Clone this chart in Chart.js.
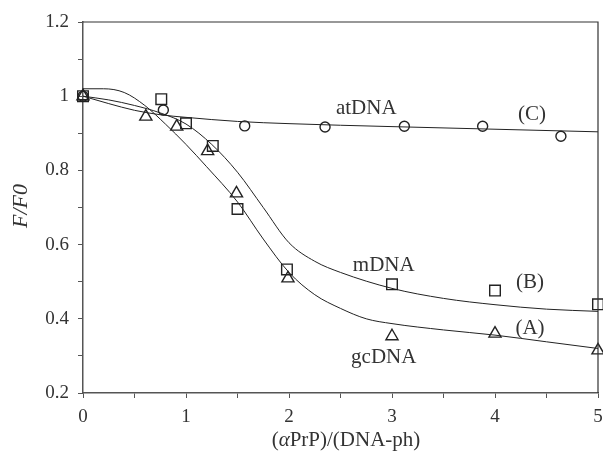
<!DOCTYPE html>
<html>
<head>
<meta charset="utf-8">
<script src="https://cdn.jsdelivr.net/npm/chart.js@4.4.0/dist/chart.umd.min.js"></script>
<style>
  body { margin: 0; background: #fff; }
  #wrap { width: 603px; height: 458px; }
</style>
</head>
<body>
<div id="wrap"><canvas id="fluoChart"></canvas></div>
<script>
// measured points
var gcX = [0, 0.61, 0.91, 1.21, 1.49, 1.99, 3.0, 4.0, 5.0];
var gcY = [1.0, 0.945, 0.918, 0.852, 0.738, 0.509, 0.353, 0.360, 0.315];
var mX = [0, 0.76, 1.0, 1.26, 1.50, 1.98, 3.0, 4.0, 5.0];
var mY = [1.0, 0.992, 0.927, 0.866, 0.696, 0.533, 0.493, 0.476, 0.439];
var atX = [0, 0.78, 1.57, 2.35, 3.12, 3.88, 4.64];
var atY = [1.0, 0.963, 0.92, 0.917, 0.919, 0.919, 0.892];

// fitted curves
var fitAX = [0, 0.2, 0.4, 0.6, 0.8, 1.0, 1.2, 1.5, 1.75, 2.0, 2.25, 2.5, 2.75, 3.0, 3.5, 4.0, 4.5, 5.0];
var fitAY = [1.02, 1.02, 1.01, 0.975, 0.925, 0.87, 0.81, 0.715, 0.615, 0.525, 0.465, 0.428, 0.4, 0.387, 0.37, 0.356, 0.338, 0.32];
var fitBX = [0, 0.25, 0.5, 0.75, 1.0, 1.25, 1.5, 1.75, 2.0, 2.25, 2.5, 3.0, 3.5, 4.0, 4.5, 5.0];
var fitBY = [1.0, 0.99, 0.975, 0.955, 0.925, 0.87, 0.795, 0.70, 0.605, 0.555, 0.525, 0.482, 0.455, 0.438, 0.426, 0.42];
var fitCX = [0, 0.25, 0.5, 0.75, 1.0, 1.5, 2.0, 3.0, 4.0, 5.0];
var fitCY = [1.0, 0.98, 0.962, 0.95, 0.943, 0.932, 0.926, 0.918, 0.911, 0.904];

// curve labels: [text, x, y]
var notes = [
  ["atDNA", 2.75, 0.968],
  ["(C)", 4.36, 0.952],
  ["mDNA", 2.92, 0.544],
  ["(B)", 4.34, 0.497],
  ["(A)", 4.34, 0.375],
  ["gcDNA", 2.92, 0.297]
];

var ink = '#222';
var serif = "'Liberation Serif', 'DejaVu Serif', serif";

function pts(xs, ys) {
  return xs.map(function (x, i) { return { x: x, y: ys[i] }; });
}

function curve(xs, ys) {
  return {
    type: 'line',
    data: pts(xs, ys),
    borderColor: ink,
    borderWidth: 1,
    pointRadius: 0,
    cubicInterpolationMode: 'monotone',
    fill: false
  };
}

function marks(xs, ys, style, r) {
  return {
    type: 'scatter',
    data: pts(xs, ys),
    pointStyle: style,
    pointRadius: r,
    pointHoverRadius: r,
    pointBorderColor: ink,
    pointBackgroundColor: 'rgba(0,0,0,0)',
    pointBorderWidth: 1.4,
    showLine: false,
    clip: false
  };
}

var extras = {
  id: 'extras',
  afterDraw: function (chart) {
    var ctx = chart.ctx, a = chart.chartArea;
    var sx = chart.scales.x, sy = chart.scales.y;
    ctx.save();
    // top and right frame
    ctx.strokeStyle = '#333';
    ctx.lineWidth = 1.2;
    ctx.beginPath();
    ctx.moveTo(a.left, a.top);
    ctx.lineTo(a.right, a.top);
    ctx.lineTo(a.right, a.bottom);
    ctx.stroke();

    ctx.fillStyle = '#333';
    ctx.font = '21px ' + serif;
    ctx.textAlign = 'center';
    ctx.textBaseline = 'middle';
    notes.forEach(function (n) {
      ctx.fillText(n[0], sx.getPixelForValue(n[1]), sy.getPixelForValue(n[2]));
    });

    // x title with italic alpha
    var parts = [['(', ''], ['\u03b1', 'italic '], ['PrP)/(DNA-ph)', '']];
    var total = 0;
    parts.forEach(function (p) { ctx.font = p[1] + '21px ' + serif; total += ctx.measureText(p[0]).width; });
    var x0 = 346 - total / 2;
    ctx.textAlign = 'left';
    parts.forEach(function (p) {
      ctx.font = p[1] + '21px ' + serif;
      ctx.fillText(p[0], x0, 440);
      x0 += ctx.measureText(p[0]).width;
    });

    // y title
    ctx.translate(21, 206);
    ctx.rotate(-Math.PI / 2);
    ctx.textAlign = 'center';
    ctx.font = 'italic 22px ' + serif;
    ctx.fillText('F/F0', 0, 0);
    ctx.restore();
  }
};

new Chart(document.getElementById('fluoChart'), {
  data: {
    datasets: [
      curve(fitAX, fitAY),
      curve(fitBX, fitBY),
      curve(fitCX, fitCY),
      marks(atX, atY, 'circle', 5),
      marks(mX, mY, 'rect', 7.5),
      marks(gcX, gcY, 'triangle', 7)
    ]
  },
  options: {
    responsive: true,
    maintainAspectRatio: false,
    animation: false,
    layout: { autoPadding: false, padding: { top: 22, right: 5, left: 0, bottom: 0 } },
    plugins: { legend: { display: false }, tooltip: { enabled: false } },
    scales: {
      x: {
        type: 'linear',
        min: 0, max: 5,
        afterFit: function (s) { s.height = 65; s.paddingLeft = 0; s.paddingRight = 0; },
        border: { color: '#555', width: 1.5 },
        grid: { drawOnChartArea: false, drawTicks: true, tickLength: 5, color: '#555' },
        ticks: {
          stepSize: 0.5, padding: 8, color: '#333', maxRotation: 0, autoSkip: false,
          font: { family: serif, size: 19 },
          callback: function (v) { return Number.isInteger(v) ? String(v) : ''; }
        }
      },
      y: {
        type: 'linear',
        min: 0.2, max: 1.2,
        afterFit: function (s) { s.width = 83; s.paddingTop = 0; s.paddingBottom = 0; },
        border: { color: '#555', width: 1.5 },
        grid: { drawOnChartArea: false, drawTicks: true, tickLength: 5, color: '#555' },
        ticks: {
          stepSize: 0.1, padding: 9, color: '#333', autoSkip: false,
          font: { family: serif, size: 19 },
          callback: function (v) {
            var t = Math.round(v * 10);
            return t % 2 === 0 ? String(t / 10) : '';
          }
        }
      }
    }
  },
  plugins: [extras]
});
</script>
</body>
</html>
